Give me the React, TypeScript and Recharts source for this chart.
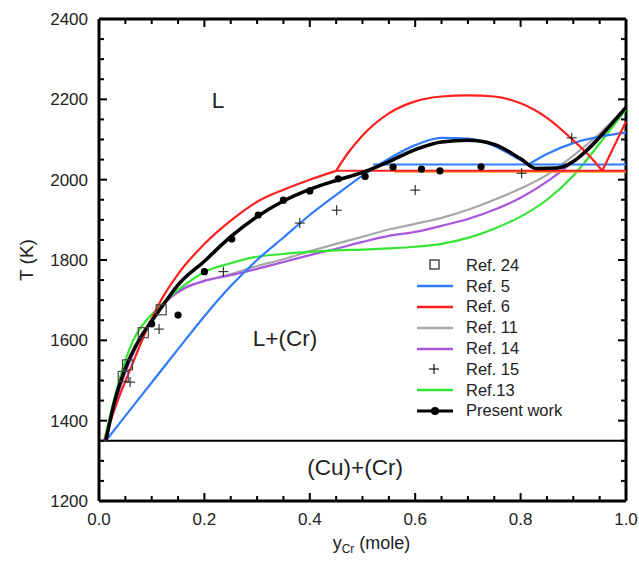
import React from 'react';
import {
  ComposedChart,
  Line,
  Scatter,
  XAxis,
  YAxis,
  Legend,
  ReferenceLine,
  ReferenceDot,
  Label,
} from 'recharts';

// y_Cr (mole fraction) vs T (K)
const ref5Liquidus = [
  { x: 0.013, t: 1350 }, { x: 0.05, t: 1412 }, { x: 0.1, t: 1495 }, { x: 0.15, t: 1578 },
  { x: 0.2, t: 1660 }, { x: 0.25, t: 1735 }, { x: 0.3, t: 1800 }, { x: 0.35, t: 1856 },
  { x: 0.4, t: 1912 }, { x: 0.45, t: 1962 }, { x: 0.5, t: 2010 }, { x: 0.55, t: 2052 },
  { x: 0.6, t: 2086 }, { x: 0.65, t: 2104 }, { x: 0.7, t: 2102 }, { x: 0.75, t: 2084 },
  { x: 0.79, t: 2056 }, { x: 0.815, t: 2038 },
];
const ref5Right = [
  { x: 0.815, t: 2038 }, { x: 0.85, t: 2064 }, { x: 0.9, t: 2091 }, { x: 0.95, t: 2107 },
  { x: 1.0, t: 2117 },
];
const ref5Mono = [{ x: 0.52, t: 2038 }, { x: 1.0, t: 2038 }];

const ref6Liquidus = [
  { x: 0.01, t: 1350 }, { x: 0.03, t: 1430 }, { x: 0.06, t: 1530 }, { x: 0.09, t: 1625 },
  { x: 0.12, t: 1705 }, { x: 0.15, t: 1765 }, { x: 0.2, t: 1840 }, { x: 0.25, t: 1898 },
  { x: 0.3, t: 1945 }, { x: 0.35, t: 1975 }, { x: 0.4, t: 2000 }, { x: 0.45, t: 2022 },
];
const ref6Dome = [
  { x: 0.45, t: 2022 }, { x: 0.47, t: 2062 }, { x: 0.5, t: 2110 }, { x: 0.55, t: 2165 },
  { x: 0.6, t: 2195 }, { x: 0.65, t: 2207 }, { x: 0.7, t: 2210 }, { x: 0.75, t: 2207 },
  { x: 0.8, t: 2190 }, { x: 0.85, t: 2154 }, { x: 0.9, t: 2098 }, { x: 0.93, t: 2060 },
  { x: 0.955, t: 2022 },
];
const ref6Right = [{ x: 0.955, t: 2022 }, { x: 1.0, t: 2145 }];
const ref6Mono = [{ x: 0.45, t: 2022 }, { x: 1.0, t: 2022 }];
const orangeMono = [{ x: 0.56, t: 2019 }, { x: 1.0, t: 2019 }];

const ref11 = [
  { x: 0.01, t: 1350 }, { x: 0.03, t: 1450 }, { x: 0.05, t: 1530 }, { x: 0.08, t: 1610 },
  { x: 0.1, t: 1650 }, { x: 0.13, t: 1700 }, { x: 0.16, t: 1730 }, { x: 0.2, t: 1748 },
  { x: 0.25, t: 1765 }, { x: 0.3, t: 1785 }, { x: 0.35, t: 1802 }, { x: 0.4, t: 1822 },
  { x: 0.45, t: 1840 }, { x: 0.5, t: 1858 }, { x: 0.55, t: 1876 }, { x: 0.6, t: 1890 },
  { x: 0.65, t: 1905 }, { x: 0.7, t: 1925 }, { x: 0.75, t: 1950 }, { x: 0.8, t: 1978 },
  { x: 0.85, t: 2012 }, { x: 0.9, t: 2060 }, { x: 0.95, t: 2115 }, { x: 1.0, t: 2180 },
];

const ref14 = [
  { x: 0.01, t: 1350 }, { x: 0.03, t: 1440 }, { x: 0.05, t: 1520 }, { x: 0.08, t: 1608 },
  { x: 0.1, t: 1650 }, { x: 0.13, t: 1700 }, { x: 0.16, t: 1728 }, { x: 0.2, t: 1748 },
  { x: 0.25, t: 1762 }, { x: 0.3, t: 1778 }, { x: 0.35, t: 1795 }, { x: 0.4, t: 1812 },
  { x: 0.45, t: 1828 }, { x: 0.5, t: 1845 }, { x: 0.55, t: 1860 }, { x: 0.6, t: 1870 },
  { x: 0.65, t: 1885 }, { x: 0.7, t: 1902 }, { x: 0.75, t: 1925 }, { x: 0.8, t: 1955 },
  { x: 0.85, t: 1995 }, { x: 0.9, t: 2045 }, { x: 0.95, t: 2108 }, { x: 1.0, t: 2180 },
];

const ref13 = [
  { x: 0.01, t: 1350 }, { x: 0.027, t: 1444 }, { x: 0.05, t: 1550 }, { x: 0.065, t: 1600 },
  { x: 0.09, t: 1650 }, { x: 0.11, t: 1677 }, { x: 0.14, t: 1715 }, { x: 0.17, t: 1745 },
  { x: 0.2, t: 1770 }, { x: 0.25, t: 1792 }, { x: 0.3, t: 1808 }, { x: 0.35, t: 1815 },
  { x: 0.4, t: 1820 }, { x: 0.45, t: 1824 }, { x: 0.5, t: 1826 }, { x: 0.55, t: 1829 },
  { x: 0.6, t: 1833 }, { x: 0.65, t: 1840 }, { x: 0.7, t: 1855 }, { x: 0.75, t: 1878 },
  { x: 0.8, t: 1908 }, { x: 0.85, t: 1950 }, { x: 0.9, t: 2010 }, { x: 0.95, t: 2090 },
  { x: 1.0, t: 2175 },
];

const presentWork = [
  { x: 0.013, t: 1350 }, { x: 0.03, t: 1450 }, { x: 0.05, t: 1530 }, { x: 0.08, t: 1610 },
  { x: 0.1, t: 1648 }, { x: 0.12, t: 1685 }, { x: 0.15, t: 1738 }, { x: 0.2, t: 1797 },
  { x: 0.25, t: 1858 }, { x: 0.3, t: 1908 }, { x: 0.35, t: 1947 }, { x: 0.4, t: 1976 },
  { x: 0.45, t: 1998 }, { x: 0.5, t: 2018 }, { x: 0.55, t: 2045 }, { x: 0.6, t: 2075 },
  { x: 0.65, t: 2094 }, { x: 0.7, t: 2098 }, { x: 0.75, t: 2088 }, { x: 0.8, t: 2052 },
  { x: 0.83, t: 2028 }, { x: 0.87, t: 2029 }, { x: 0.9, t: 2045 }, { x: 0.93, t: 2078 },
  { x: 0.96, t: 2120 }, { x: 1.0, t: 2180 },
];
const presentDots = [
  { x: 0.1, t: 1641 }, { x: 0.15, t: 1663 }, { x: 0.2, t: 1771 }, { x: 0.252, t: 1852 },
  { x: 0.302, t: 1912 }, { x: 0.35, t: 1949 }, { x: 0.4, t: 1972 }, { x: 0.454, t: 2002 },
  { x: 0.505, t: 2008 }, { x: 0.558, t: 2031 }, { x: 0.612, t: 2026 }, { x: 0.647, t: 2022 },
  { x: 0.725, t: 2032 },
];

const eutectic = [{ x: 0, t: 1350 }, { x: 1, t: 1350 }];

const ref24Squares = [
  { x: 0.046, t: 1510 }, { x: 0.054, t: 1539 }, { x: 0.084, t: 1619 }, { x: 0.118, t: 1676 },
];
const ref15Crosses = [
  { x: 0.059, t: 1496 }, { x: 0.114, t: 1628 }, { x: 0.236, t: 1771 }, { x: 0.381, t: 1892 },
  { x: 0.451, t: 1924 }, { x: 0.6, t: 1974 }, { x: 0.802, t: 2016 }, { x: 0.897, t: 2104 },
];

const xTicks = [
  0, 0.05, 0.1, 0.15, 0.2, 0.25, 0.3, 0.35, 0.4, 0.45, 0.5, 0.55, 0.6, 0.65, 0.7, 0.75, 0.8,
  0.85, 0.9, 0.95, 1.0,
];
const yTicks = [
  1200, 1250, 1300, 1350, 1400, 1450, 1500, 1550, 1600, 1650, 1700, 1750, 1800, 1850, 1900,
  1950, 2000, 2050, 2100, 2150, 2200, 2250, 2300, 2350, 2400,
];

const legendItems = [
  { name: 'Ref. 24', kind: 'square', color: '#333' },
  { name: 'Ref. 5', kind: 'line', color: '#2f7bff' },
  { name: 'Ref. 6', kind: 'line', color: '#ff1f1f' },
  { name: 'Ref. 11', kind: 'line', color: '#a8a8a8' },
  { name: 'Ref. 14', kind: 'line', color: '#aa55dd' },
  { name: 'Ref. 15', kind: 'cross', color: '#111' },
  { name: 'Ref.13', kind: 'line', color: '#33e633' },
  { name: 'Present work', kind: 'dotline', color: '#000' },
];

const W = 639;
const H = 561;
const FONT = 'Arial, "Liberation Sans", sans-serif';
const X_MIN = 0;
const X_MAX = 1;
const T_MIN = 1200;
const T_MAX = 2400;

const isMultiple = (v: number, step: number) =>
  Math.abs(v / step - Math.round(v / step)) < 1e-6;

// tick anchors on the four frame edges, placed by the chart scales
const bottomTicks = xTicks.map((v) => ({ x: v, t: T_MIN, major: isMultiple(v, 0.2) }));
const topTicks = xTicks.map((v) => ({ x: v, t: T_MAX, major: isMultiple(v, 0.2) }));
const leftTicks = yTicks.map((v) => ({ x: X_MIN, t: v, major: isMultiple(v, 200) }));
const rightTicks = yTicks.map((v) => ({ x: X_MAX, t: v, major: isMultiple(v, 200) }));

const tickLen = (p: any) => ((p.payload ? p.payload.major : p.major) ? 8 : 5);

const UpTick = (p: any) => <rect x={p.cx - 1} y={p.cy - tickLen(p)} width={2} height={tickLen(p)} fill="#000" />;
const DownTick = (p: any) => <rect x={p.cx - 1} y={p.cy} width={2} height={tickLen(p)} fill="#000" />;
const RightTick = (p: any) => <rect x={p.cx} y={p.cy - 1} width={tickLen(p)} height={2} fill="#000" />;
const LeftTick = (p: any) => <rect x={p.cx - tickLen(p)} y={p.cy - 1} width={tickLen(p)} height={2} fill="#000" />;

const renderXTick = (props: any) => {
  const v = props.payload.value as number;
  if (!isMultiple(v, 0.2)) return <g key={`xt-${v}`} />;
  return (
    <text key={`xt-${v}`} x={props.x} y={Number(props.y) + 24} textAnchor="middle" fontSize={17} fontFamily={FONT} fill="#222">
      {v.toFixed(1)}
    </text>
  );
};

const renderYTick = (props: any) => {
  const v = props.payload.value as number;
  if (!isMultiple(v, 200)) return <g key={`yt-${v}`} />;
  return (
    <text key={`yt-${v}`} x={Number(props.x) - 11} y={Number(props.y) + 6} textAnchor="end" fontSize={17} fontFamily={FONT} fill="#222">
      {v}
    </text>
  );
};

const SquareShape = (p: any) => (
  <rect x={p.cx - 5} y={p.cy - 5} width={10} height={10} fill="none" stroke="#444" strokeWidth={1.2} />
);
const CrossShape = (p: any) => (
  <g stroke="#222" strokeWidth={1.1}>
    <line x1={p.cx - 5} x2={p.cx + 5} y1={p.cy} y2={p.cy} />
    <line x1={p.cx} x2={p.cx} y1={p.cy - 5} y2={p.cy + 5} />
  </g>
);
const DotShape = (p: any) => <circle cx={p.cx} cy={p.cy} r={3.6} fill="#000" />;

const LegendSymbol = ({ kind, color }: { kind: string; color: string }) => (
  <svg width={46} height={20} style={{ display: 'block' }}>
    {kind === 'square' && (
      <rect x={14} y={5} width={9} height={9} fill="none" stroke={color} strokeWidth={1.3} />
    )}
    {kind === 'cross' && (
      <g stroke={color} strokeWidth={1.2}>
        <line x1={13} x2={23} y1={10} y2={10} />
        <line x1={18} x2={18} y1={5} y2={15} />
      </g>
    )}
    {kind === 'line' && <line x1={1} x2={37} y1={10} y2={10} stroke={color} strokeWidth={2.5} />}
    {kind === 'dotline' && (
      <g>
        <line x1={1} x2={37} y1={10} y2={10} stroke={color} strokeWidth={3} />
        <circle cx={19} cy={10} r={4} fill={color} />
      </g>
    )}
  </svg>
);

const renderLegend = () => (
  <div style={{ fontFamily: FONT, fontSize: 16.5, color: '#222' }}>
    {legendItems.map((item) => (
      <div key={item.name} style={{ display: 'flex', alignItems: 'center', height: 20.8 }}>
        <LegendSymbol kind={item.kind} color={item.color} />
        <span style={{ marginLeft: 4, whiteSpace: 'nowrap' }}>{item.name}</span>
      </div>
    ))}
  </div>
);

const XTitle = (props: any) => {
  const { x, y, width } = props.viewBox;
  return (
    <text x={x + width / 2 + 9} y={y + 48} textAnchor="middle" fontFamily={FONT} fontSize={18} fill="#222">
      y<tspan fontSize={12} dy={4}>Cr</tspan>
      <tspan dy={-4}> (mole)</tspan>
    </text>
  );
};

const YTitle = (props: any) => {
  const { x, y, height } = props.viewBox;
  const cx = x - 13;
  const cy = y + height / 2;
  return (
    <text
      x={cx}
      y={cy}
      transform={`rotate(-90, ${cx}, ${cy})`}
      textAnchor="middle"
      dominantBaseline="central"
      fontFamily={FONT}
      fontSize={19}
      fill="#222"
    >
      T (K)
    </text>
  );
};

const regionLabel = (text: string) => (
  <Label value={text} position="center" fontSize={22.5} fontFamily={FONT} fill="#222" />
);

const curve = (data: { x: number; t: number }[], color: string, width: number, key: string, type: any = 'monotone') => (
  <Line
    key={key}
    data={data}
    dataKey="t"
    type={type}
    stroke={color}
    strokeWidth={width}
    dot={false}
    activeDot={false}
    legendType="none"
    isAnimationActive={false}
  />
);

const App: React.FC = () => {
  return (
    <div style={{ position: 'absolute', left: 0, top: 0, width: W, height: H, background: '#fff' }}>
      <ComposedChart width={W} height={H} margin={{ top: 19, right: 13, bottom: 0, left: 39 }}>
        <XAxis
          type="number"
          dataKey="x"
          domain={[X_MIN, X_MAX]}
          ticks={xTicks}
          interval={0}
          tickSize={0}
          tickMargin={0}
          tick={renderXTick}
          tickLine={false}
          axisLine={{ stroke: '#000', strokeWidth: 3 }}
          height={60}
        >
          <Label content={<XTitle />} />
        </XAxis>
        <YAxis
          type="number"
          dataKey="t"
          domain={[T_MIN, T_MAX]}
          ticks={yTicks}
          interval={0}
          tickSize={0}
          tickMargin={0}
          tick={renderYTick}
          tickLine={false}
          axisLine={{ stroke: '#000', strokeWidth: 3 }}
          width={60}
        >
          <Label content={<YTitle />} />
        </YAxis>
        <ReferenceLine y={T_MAX} stroke="#000" strokeWidth={3} />
        <ReferenceLine x={X_MAX} stroke="#000" strokeWidth={3} />

        {curve(eutectic, '#000', 2.2, 'eut', 'linear')}
        {curve(ref11, '#a8a8a8', 2.2, 'r11')}
        {curve(ref14, '#aa55dd', 2.2, 'r14')}
        {curve(ref13, '#33e633', 2.2, 'r13')}
        {curve(orangeMono, '#ff9a1a', 1.6, 'om', 'linear')}
        {curve(ref6Mono, '#ff1f1f', 2, 'r6m', 'linear')}
        {curve(ref5Mono, '#2f7bff', 2, 'r5m', 'linear')}
        {curve(ref5Liquidus, '#2f7bff', 2.2, 'r5a')}
        {curve(ref5Right, '#2f7bff', 2.2, 'r5b')}
        {curve(ref6Liquidus, '#ff1f1f', 2.2, 'r6a')}
        {curve(ref6Dome, '#ff1f1f', 2.2, 'r6b')}
        {curve(ref6Right, '#ff1f1f', 2.2, 'r6c', 'linear')}
        {curve(presentWork, '#000', 3.5, 'pw')}

        <Scatter data={bottomTicks} dataKey="t" shape={<UpTick />} legendType="none" isAnimationActive={false} />
        <Scatter data={topTicks} dataKey="t" shape={<DownTick />} legendType="none" isAnimationActive={false} />
        <Scatter data={leftTicks} dataKey="t" shape={<RightTick />} legendType="none" isAnimationActive={false} />
        <Scatter data={rightTicks} dataKey="t" shape={<LeftTick />} legendType="none" isAnimationActive={false} />

        <Scatter data={ref24Squares} dataKey="t" shape={<SquareShape />} legendType="none" isAnimationActive={false} />
        <Scatter data={ref15Crosses} dataKey="t" shape={<CrossShape />} legendType="none" isAnimationActive={false} />
        <Scatter data={presentDots} dataKey="t" shape={<DotShape />} legendType="none" isAnimationActive={false} />

        <ReferenceDot x={0.226} y={2198} r={0} fill="none" stroke="none">
          {regionLabel('L')}
        </ReferenceDot>
        <ReferenceDot x={0.353} y={1606} r={0} fill="none" stroke="none">
          {regionLabel('L+(Cr)')}
        </ReferenceDot>
        <ReferenceDot x={0.486} y={1285} r={0} fill="none" stroke="none">
          {regionLabel('(Cu)+(Cr)')}
        </ReferenceDot>

        <Legend
          layout="vertical"
          align="center"
          verticalAlign="middle"
          content={renderLegend}
          wrapperStyle={{ left: 416, top: 255, width: 210, height: 170 }}
        />
      </ComposedChart>
    </div>
  );
};

export default App;
